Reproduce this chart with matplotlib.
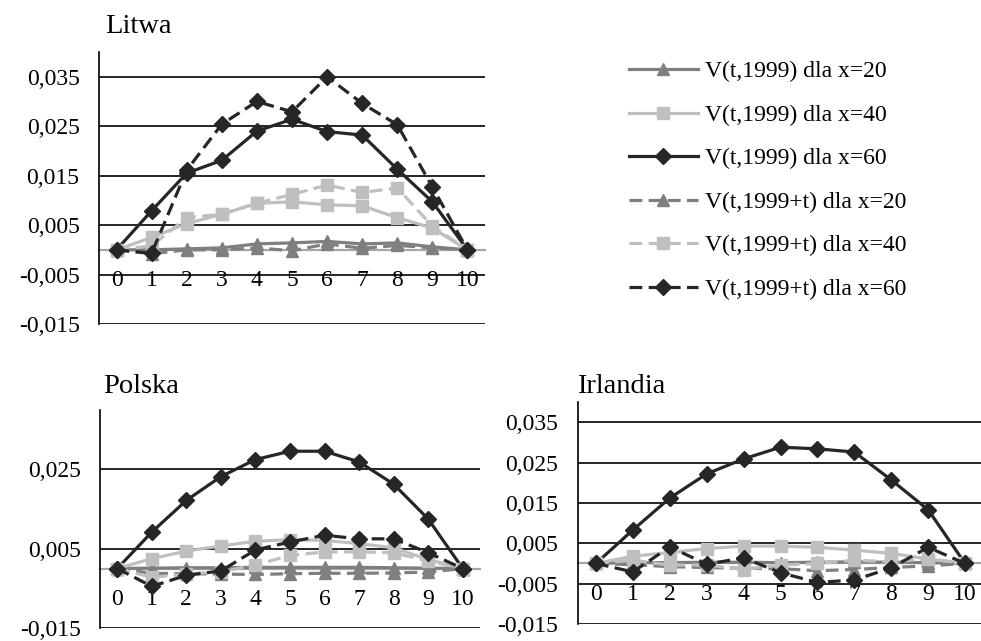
import matplotlib
matplotlib.use("Agg")
import matplotlib.pyplot as plt

plt.rcParams['font.family'] = ['Liberation Serif', 'DejaVu Serif']

t = list(range(11))

labels = ['V(t,1999) dla x=20', 'V(t,1999) dla x=40', 'V(t,1999) dla x=60',
          'V(t,1999+t) dla x=20', 'V(t,1999+t) dla x=40', 'V(t,1999+t) dla x=60']

# Litwa
lt_v20 = [0, 0.0000, 0.0002, 0.0004, 0.0012, 0.0014, 0.0017, 0.0012, 0.0014, 0.0006, 0]
lt_v40 = [0, 0.0025, 0.0053, 0.0072, 0.0094, 0.0097, 0.0091, 0.0089, 0.0065, 0.0044, 0]
lt_v60 = [0, 0.0079, 0.0155, 0.0181, 0.0240, 0.0264, 0.0239, 0.0232, 0.0163, 0.0097, 0]
lt_c20 = [0, -0.0008, 0.0000, 0.0000, 0.0004, -0.0002, 0.0012, 0.0003, 0.0009, 0.0004, 0]
lt_c40 = [0, 0.0008, 0.0065, 0.0072, 0.0094, 0.0112, 0.0131, 0.0116, 0.0125, 0.0048, 0]
lt_c60 = [0, -0.0007, 0.0161, 0.0254, 0.0300, 0.0279, 0.0350, 0.0296, 0.0253, 0.0127, 0]

# Polska
pl_v20 = [0, 0.0001, 0.0002, 0.0002, 0.0003, 0.0003, 0.0003, 0.0003, 0.0002, 0.0001, 0]
pl_v40 = [0, 0.0025, 0.0044, 0.0057, 0.0069, 0.0073, 0.0071, 0.0063, 0.0052, 0.0023, 0]
pl_v60 = [0, 0.0092, 0.0172, 0.0232, 0.0275, 0.0296, 0.0296, 0.0269, 0.0213, 0.0125, 0]
pl_c20 = [0, -0.0012, -0.0013, -0.0014, -0.0015, -0.0013, -0.0012, -0.0012, -0.0011, -0.0009, 0]
pl_c40 = [0, -0.0022, -0.0014, -0.0008, 0.0009, 0.0033, 0.0042, 0.0042, 0.0040, 0.0019, 0]
pl_c60 = [0, -0.0045, -0.0017, -0.0006, 0.0047, 0.0067, 0.0084, 0.0075, 0.0075, 0.0040, 0]

# Irlandia
ie_v20 = [0, 0.0002, 0.0002, 0.0003, 0.0003, 0.0002, 0.0003, 0.0004, 0.0003, 0.0002, 0]
ie_v40 = [0, 0.0018, 0.0027, 0.0037, 0.0043, 0.0043, 0.0040, 0.0033, 0.0025, 0.0011, 0]
ie_v60 = [0, 0.0083, 0.0162, 0.0222, 0.0259, 0.0288, 0.0284, 0.0276, 0.0207, 0.0133, 0]
ie_c20 = [0, -0.0003, -0.0008, -0.0010, -0.0012, -0.0013, -0.0018, -0.0015, -0.0010, -0.0006, 0]
ie_c40 = [0, 0.0008, -0.0004, -0.0004, -0.0015, -0.0004, 0.0000, 0.0008, 0.0004, 0.0012, 0]
ie_c60 = [0, -0.0021, 0.0041, -0.0002, 0.0014, -0.0023, -0.0047, -0.0041, -0.0011, 0.0040, 0]

yticks_fine = [-0.015, -0.005, 0.005, 0.015, 0.025, 0.035]
yticks_coarse = [-0.015, 0.005, 0.025]

colors = ['#7f7f7f', '#bfbfbf', '#262626']
markers = ['^', 's', 'D']
msizes = [8.5, 8, 8]
W, H = 981, 641
FS = 17


def fmt(v):
    return ('%.3f' % v).replace('.', ',')


def panel(rect, series, yticks):
    l, r, top, bot = rect
    ax = fig.add_axes([l / W, (H - bot) / H, (r - l) / W, (bot - top) / H])
    ax.set_xlim(-0.5, 10.5)
    ax.set_ylim(-0.015, 0.040)
    for k, ys in enumerate(series):
        i = k % 3
        ls = '-' if k < 3 else (0, (4, 2))
        ax.plot(t, ys, color=colors[i], lw=2.3, ls=ls, marker=markers[i],
                ms=msizes[i], mec=colors[i], mfc=colors[i], zorder=3 + k,
                label=labels[k], clip_on=False)
    ax.set_yticks(yticks)
    ax.set_yticklabels([fmt(v) for v in yticks])
    ax.set_xticks(t)
    ax.set_xticklabels([str(v) for v in t])
    ax.grid(axis='y', color='black', lw=1.2, zorder=0)
    ax.set_axisbelow(True)
    for s in ['top', 'right']:
        ax.spines[s].set_visible(False)
    ax.spines['left'].set_linewidth(1.2)
    ax.spines['bottom'].set_position(('data', 0))
    ax.spines['bottom'].set_color('#a6a6a6')
    ax.spines['bottom'].set_linewidth(1.6)
    ax.spines['bottom'].set_zorder(1)
    ax.tick_params(axis='both', length=0, labelsize=FS)
    ax.tick_params(axis='y', pad=14)
    ax.tick_params(axis='x', pad=14.5)
    return ax


fig = plt.figure(figsize=(W / 100, H / 100), dpi=100)

ax1 = panel((99, 485, 52, 324), [lt_v20, lt_v40, lt_v60, lt_c20, lt_c40, lt_c60], yticks_fine)
ax2 = panel((100, 480, 410, 628), [pl_v20, pl_v40, pl_v60, pl_c20, pl_c40, pl_c60], yticks_coarse)
ax3 = panel((577.5, 983.5, 402, 624), [ie_v20, ie_v40, ie_v60, ie_c20, ie_c40, ie_c60], yticks_fine)

fig.text(105 / W, 1 - 33 / H, 'Litwa', fontsize=20.5, va='baseline', ha='left')
fig.text(103 / W, 1 - 393 / H, 'Polska', fontsize=20.5, va='baseline', ha='left')
fig.text(577 / W, 1 - 393 / H, 'Irlandia', fontsize=20.5, va='baseline', ha='left')

handles, hl = ax1.get_legend_handles_labels()
fig.legend(handles, hl, loc='upper left', bbox_to_anchor=(629 / W, 1 - 61 / H),
           frameon=False, fontsize=FS, handlelength=2.92, handletextpad=0.3,
           labelspacing=0.93, borderpad=0, borderaxespad=0, numpoints=1)

fig.savefig('out.png', dpi=100)
